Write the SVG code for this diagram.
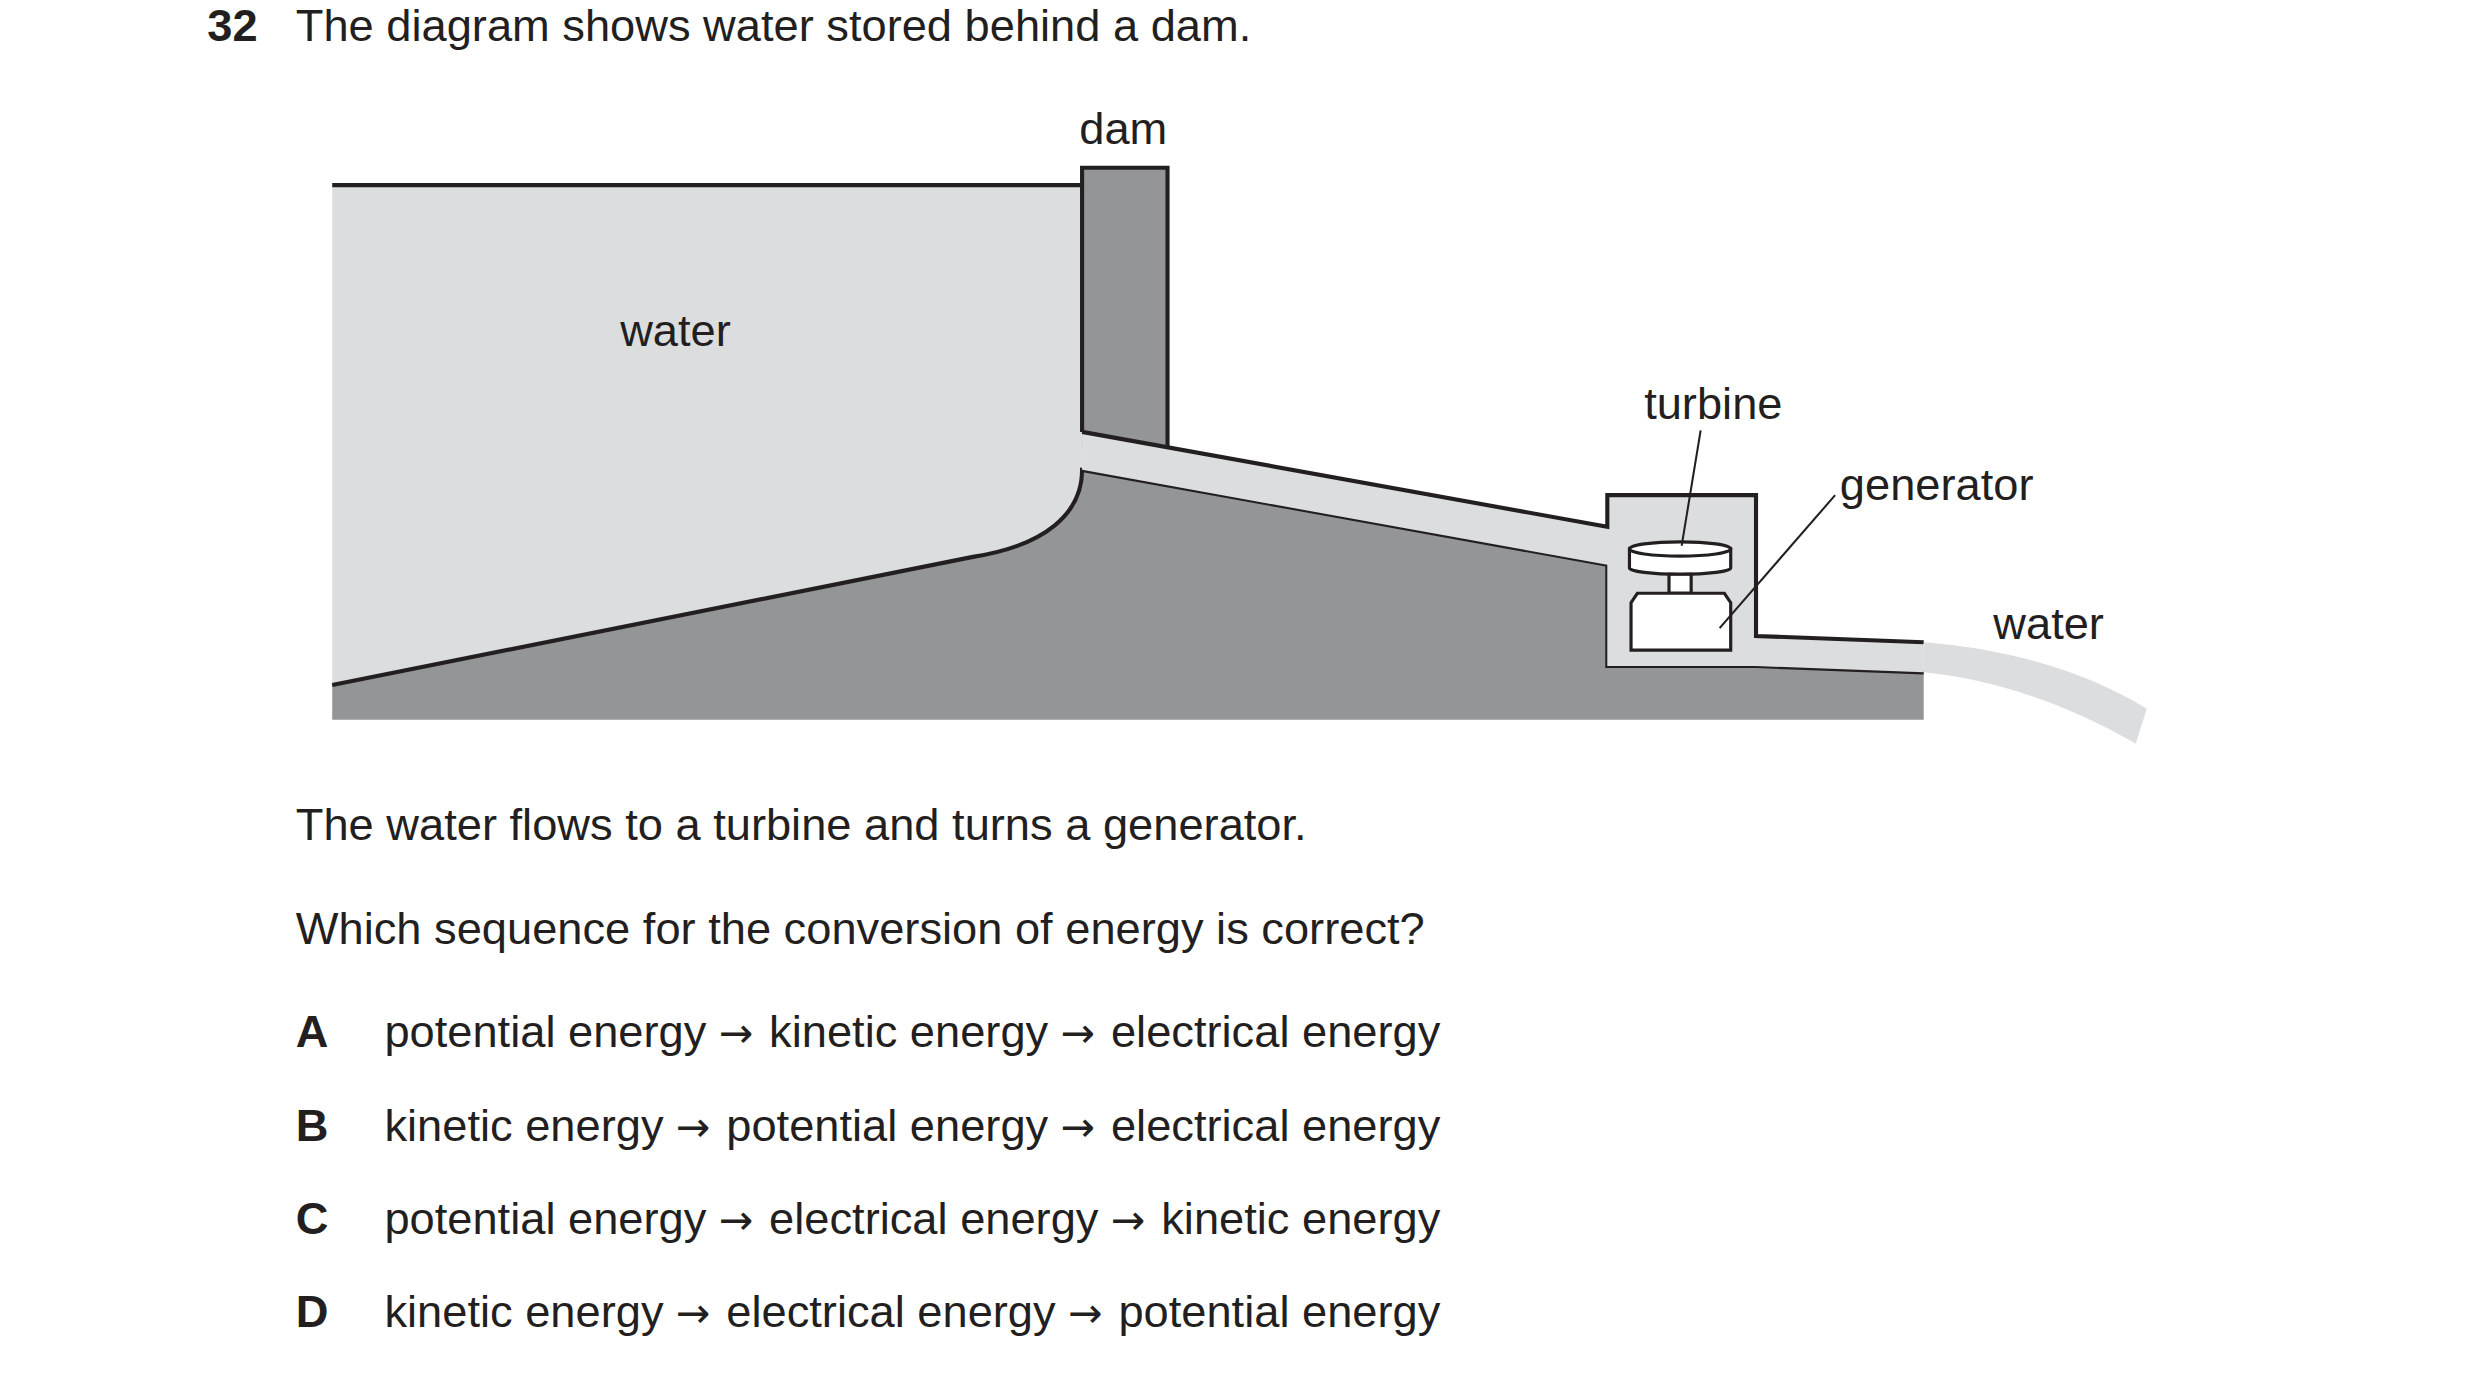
<svg xmlns="http://www.w3.org/2000/svg" width="2480" height="1378" viewBox="0 0 2480 1378">
<style>
text{font-family:"Liberation Sans",Arial,sans-serif;font-size:28.6px;fill:#231f20}
.b{font-weight:bold}
.a{font-family:"DejaVu Sans",sans-serif;font-size:26px;letter-spacing:2px}
.ln{fill:none;stroke:#231f20;stroke-width:2.6;stroke-linejoin:miter}
.lt{fill:#dcdddf}
.dk{fill:#949597}
.ld{fill:none;stroke:#231f20;stroke-width:1.3}
</style>
<rect width="2480" height="1378" fill="#fff"/>
<g transform="scale(1.582)">
<g id="question">
<text x="131" y="26" class="b">32</text>
<text x="187" y="26">The diagram shows water stored behind a dam.</text>
</g>
<g id="reservoir">
<path class="lt" d="M210,117 H684 V297 C684,325 660,345 615,352 L210,433 Z"/>
<path class="ln" d="M210,117 H684"/>
<text x="427" y="219" text-anchor="middle">water</text>
</g>
<g id="ground">
<path class="dk" d="M210,433 L615,352 C660,345 684,325 684,297 L1016,357 V421 H1110 L1216,425 V455 H210 Z"/>
<path class="ln" d="M210,433 L615,352 C660,345 684,325 684,297 L1016,357 V421 H1110 L1216,425"/>
</g>
<g id="dam">
<rect x="684" y="106" width="54" height="177" class="dk"/>
<path class="ln" d="M684,273 V106 H738 V283"/>
<text x="710" y="91" text-anchor="middle">dam</text>
</g>
<g id="pipe">
<path class="lt" d="M684,273 L1016,333 V313 H1110 V402 L1216,406 V425 L1110,421 H1016 V357 L684,297 Z"/>
<path class="ln" d="M684,273 L1016,333 V313 H1110 V402 L1216,406"/>
<path class="lt" d="M1216,406 C1270,410 1320,425 1357,448 L1350,470 C1310,447 1265,430 1216,425 Z"/>
<text x="1260" y="404">water</text>
</g>
<g id="turbine">
<path d="M1030,347 V359 A32,4 0 0 0 1094,359 V347 Z" fill="#fff" stroke="#231f20" stroke-width="2"/>
<ellipse cx="1062" cy="347" rx="32" ry="4.5" fill="#fff" stroke="#231f20" stroke-width="2"/>
<rect x="1055" y="363" width="14" height="12" fill="#fff" stroke="#231f20" stroke-width="2"/>
<text x="1083" y="265" text-anchor="middle">turbine</text>
</g>
<g id="generator">
<path d="M1035,375 H1090 L1094,381 V411 H1031 V381 Z" fill="#fff" stroke="#231f20" stroke-width="2"/>
<text x="1163" y="316">generator</text>
</g>
<g id="connectors">
<path class="ld" d="M1075,272 L1063,345"/>
<path class="ld" d="M1160,313 L1087,397"/>
</g>
<g id="options">
<text x="187" y="531">The water flows to a turbine and turns a generator.</text>
<text x="187" y="597">Which sequence for the conversion of energy is correct?</text>
<text x="187" y="662" class="b">A</text><text x="243" y="662">potential energy <tspan class="a">→</tspan> kinetic energy <tspan class="a">→</tspan> electrical energy</text>
<text x="187" y="721" class="b">B</text><text x="243" y="721">kinetic energy <tspan class="a">→</tspan> potential energy <tspan class="a">→</tspan> electrical energy</text>
<text x="187" y="780" class="b">C</text><text x="243" y="780">potential energy <tspan class="a">→</tspan> electrical energy <tspan class="a">→</tspan> kinetic energy</text>
<text x="187" y="839" class="b">D</text><text x="243" y="839">kinetic energy <tspan class="a">→</tspan> electrical energy <tspan class="a">→</tspan> potential energy</text>
</g>
</g>
</svg>
